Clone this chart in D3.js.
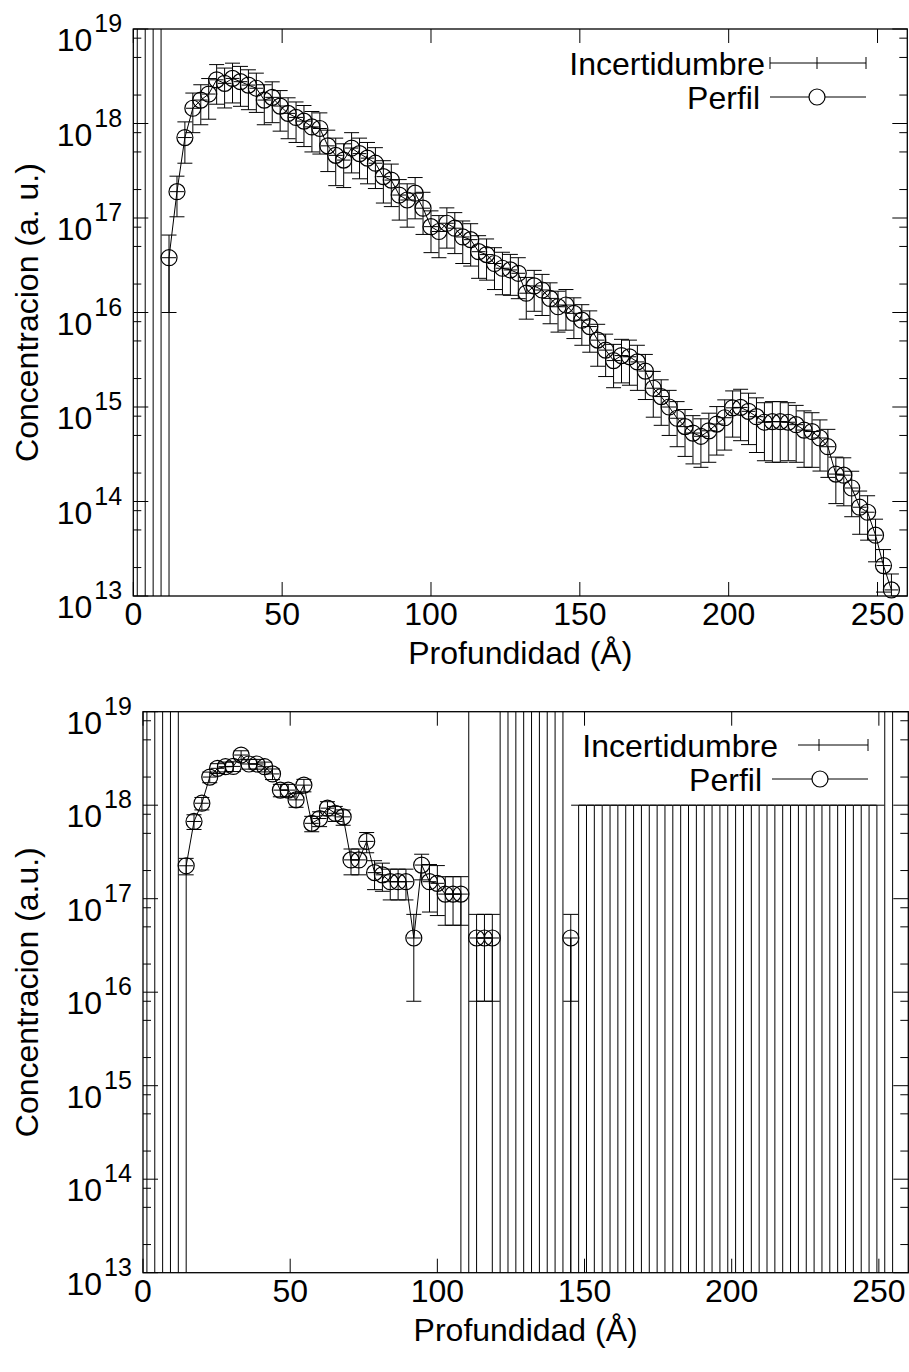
<!DOCTYPE html>
<html>
<head>
<meta charset="utf-8">
<script src="https://cdn.jsdelivr.net/npm/d3@7"></script>
<style>
  body { margin: 0; background: #fff; }
  svg { display: block; }
  text { font-family: "Liberation Sans", Arial, sans-serif; fill: #000; }
</style>
</head>
<body>
<svg id="chart" width="909" height="1372"></svg>
<script>
// profundidad (Å) de cada canal
const depth = [
    1.33, 4.00, 6.67, 9.33, 12.00, 14.67, 17.33, 20.00, 22.67, 25.33,
    28.00, 30.67, 33.33, 36.00, 38.67, 41.33, 44.00, 46.67, 49.33, 52.00,
    54.67, 57.33, 60.00, 62.67, 65.33, 68.00, 70.67, 73.33, 76.00, 78.67,
    81.33, 84.00, 86.67, 89.33, 92.00, 94.67, 97.33, 100.00, 102.67, 105.33,
    108.00, 110.67, 113.33, 116.00, 118.67, 121.33, 124.00, 126.67, 129.33, 132.00,
    134.67, 137.33, 140.00, 142.67, 145.33, 148.00, 150.67, 153.33, 156.00, 158.67,
    161.33, 164.00, 166.67, 169.33, 172.00, 174.67, 177.33, 180.00, 182.67, 185.33,
    188.00, 190.67, 193.33, 196.00, 198.67, 201.33, 204.00, 206.67, 209.33, 212.00,
    214.67, 217.33, 220.00, 222.67, 225.33, 228.00, 230.67, 233.33, 236.00, 238.67,
    241.33, 244.00, 246.67, 249.33, 252.00, 254.67
];

const xTicks = [0, 50, 100, 150, 200, 250];
const yTicks = [1e13, 1e14, 1e15, 1e16, 1e17, 1e18, 1e19];
const yMinorSteps = [2, 5, 8];

// panel superior
const topValue = [
    0, 0, 0, 0, 3.8e16, 1.9e17, 7.1e17, 1.45e18, 1.77e18, 2.05e18,
    2.9e18, 2.66e18, 3.0e18, 2.77e18, 2.55e18, 2.36e18, 1.77e18, 1.89e18, 1.53e18, 1.28e18,
    1.16e18, 1.06e18, 9.2e17, 8.85e17, 5.8e17, 4.6e17, 4.1e17, 5.5e17, 4.8e17, 4.3e17,
    3.8e17, 2.74e17, 2.52e17, 1.75e17, 1.55e17, 1.83e17, 1.27e17, 8.1e16, 7.2e16, 8.8e16,
    7.8e16, 6.3e16, 5.9e16, 4.4e16, 4.1e16, 3.3e16, 2.94e16, 2.82e16, 2.6e16, 1.6e16,
    1.91e16, 1.73e16, 1.41e16, 1.15e16, 1.2e16, 9.8e15, 8.3e15, 7.1e15, 5.1e15, 4.0e15,
    3.1e15, 3.5e15, 3.4e15, 3.0e15, 2.4e15, 1.58e15, 1.29e15, 1.0e15, 7.6e14, 6.2e14,
    5.3e14, 4.9e14, 5.6e14, 6.6e14, 7.7e14, 9.8e14, 9.9e14, 9.0e14, 7.9e14, 6.9e14,
    7.0e14, 7.0e14, 6.9e14, 6.5e14, 5.7e14, 5.5e14, 4.7e14, 3.8e14, 1.95e14, 1.9e14,
    1.39e14, 8.7e13, 7.7e13, 4.4e13, 2.1e13, 1.16e13
];
const topError = [
    1e20, 1e20, 1e20, 1e20, 2.8e16, 8.7e16, 3.3e17, 6.5e17, 8.0e17, 9.4e17,
    1.3e18, 1.2e18, 1.35e18, 1.25e18, 1.15e18, 1.05e18, 8.0e17, 8.7e17, 7.0e17, 5.9e17,
    5.3e17, 4.9e17, 4.2e17, 4.1e17, 2.7e17, 2.4e17, 2.0e17, 2.5e17, 2.2e17, 2.0e17,
    1.75e17, 1.3e17, 1.2e17, 8.0e16, 7.5e16, 8.5e16, 6.0e16, 3.8e16, 3.4e16, 4.0e16,
    3.6e16, 3.0e16, 2.8e16, 2.1e16, 1.9e16, 1.55e16, 1.4e16, 1.3e16, 1.2e16, 7.5e15,
    8.8e15, 8.0e15, 6.5e15, 5.3e15, 5.5e15, 4.5e15, 3.8e15, 3.3e15, 2.4e15, 1.9e15,
    1.5e15, 1.7e15, 1.7e15, 1.5e15, 1.2e15, 8.0e14, 6.5e14, 5.0e14, 3.8e14, 3.2e14,
    2.8e14, 2.6e14, 3.0e14, 3.5e14, 4.2e14, 5.0e14, 5.5e14, 5.0e14, 4.6e14, 4.2e14,
    4.4e14, 4.4e14, 4.2e14, 3.9e14, 3.4e14, 3.2e14, 2.6e14, 2.0e14, 1.0e14, 1.0e14,
    7.0e13, 4.2e13, 3.8e13, 2.1e13, 1.0e13, 5.5e12
];

// panel inferior
const bottomValue = [
    0, 0, 0, 0, 0, 2.25e17, 6.7e17, 1.05e18, 2.0e18, 2.48e18,
    2.58e18, 2.6e18, 3.44e18, 2.76e18, 2.76e18, 2.58e18, 2.16e18, 1.45e18, 1.45e18, 1.14e18,
    1.64e18, 6.4e17, 7.2e17, 9.3e17, 8.2e17, 7.5e17, 2.6e17, 2.6e17, 4.1e17, 1.9e17,
    1.8e17, 1.52e17, 1.52e17, 1.52e17, 3.8e16, 2.29e17, 1.52e17, 1.46e17, 1.12e17, 1.12e17,
    1.12e17, 0, 3.8e16, 3.8e16, 3.8e16, 0, 0, 0, 0, 0,
    0, 0, 0, 0, 3.8e16, 0, 0, 0, 0, 0,
    0, 0, 0, 0, 0, 0, 0, 0, 0, 0,
    0, 0, 0, 0, 0, 0, 0, 0, 0, 0,
    0, 0, 0, 0, 0, 0, 0, 0, 0, 0,
    0, 0, 0, 0, 0, 0
];
const bottomError = [
    1e20, 1e20, 1e20, 1e20, 1e20, 4.5e16, 1.2e17, 1.6e17, 2.6e17, 3.0e17,
    3.1e17, 3.1e17, 3.8e17, 3.3e17, 3.3e17, 3.1e17, 2.8e17, 2.2e17, 2.2e17, 1.9e17,
    2.5e17, 1.2e17, 1.3e17, 1.6e17, 1.5e17, 1.4e17, 8e16, 8e16, 1.0e17, 6.5e16,
    6e16, 5.5e16, 5.5e16, 5.5e16, 3e16, 7e16, 8e16, 8e16, 6e16, 6e16,
    6e16, 1e20, 3e16, 3e16, 3e16, 1e20, 1e20, 1e20, 1e20, 1e20,
    1e20, 1e20, 1e20, 1e20, 3e16, 1e18, 1e18, 1e18, 1e18, 1e18,
    1e18, 1e18, 1e18, 1e18, 1e18, 1e18, 1e18, 1e18, 1e18, 1e18,
    1e18, 1e18, 1e18, 1e18, 1e18, 1e18, 1e18, 1e18, 1e18, 1e18,
    1e18, 1e18, 1e18, 1e18, 1e18, 1e18, 1e18, 1e18, 1e18, 1e18,
    1e18, 1e18, 1e18, 1e18, 1e20, 1e20
];

const panels = [
    {
        id: 'top', value: topValue, error: topError,
        left: 133.3, right: 907.3, top: 29, bottom: 596,
        ylabel: 'Concentracion (a. u.)',
        legend: [
            { label: 'Incertidumbre', textRight: 765, y: 63, x1: 770, x2: 866, mx: 817, caps: [770, 866], kind: 'err' },
            { label: 'Perfil', textRight: 760, y: 97, x1: 770, x2: 866, mx: 817, kind: 'circle' }
        ]
    },
    {
        id: 'bottom', value: bottomValue, error: bottomError,
        left: 143, right: 908.3, top: 711.7, bottom: 1272.7,
        ylabel: 'Concentracion (a.u.)',
        legend: [
            { label: 'Incertidumbre', textRight: 778, y: 745, x1: 798, x2: 868, mx: 819, caps: [868], kind: 'err' },
            { label: 'Perfil', textRight: 762, y: 779, x1: 772, x2: 868, mx: 820, kind: 'circle' }
        ]
    }
];

const svg = d3.select('#chart');
const yMin = 1e13, yMax = 1e19;
const capHalf = 7.5;
const radius = 8;

function drawPanel(p) {
    const x = d3.scaleLinear().domain([0, 260]).range([p.left, p.right]);
    const y = d3.scaleLog().domain([yMin, yMax]).range([p.bottom, p.top]);

    svg.append('clipPath').attr('id', 'clip-' + p.id)
        .append('rect')
        .attr('x', p.left).attr('y', p.top)
        .attr('width', p.right - p.left).attr('height', p.bottom - p.top);

    const g = svg.append('g').attr('clip-path', `url(#clip-${p.id})`);
    const line = (x1, y1, x2, y2, w) => g.append('line')
        .attr('x1', x1).attr('y1', y1).attr('x2', x2).attr('y2', y2)
        .attr('stroke', '#000').attr('stroke-width', w || 1);

    // barras de error
    depth.forEach((d, i) => {
        const v = p.value[i], e = p.error[i];
        const hi = v + e, lo = v - e;
        if (hi <= yMin) return;
        const xp = x(d);
        const yHi = hi >= yMax ? p.top : y(hi);
        const yLo = lo <= yMin ? p.bottom : y(lo);
        line(xp, yHi, xp, yLo);
        if (hi < yMax) line(xp - capHalf, yHi, xp + capHalf, yHi);
        if (lo > yMin && lo < yMax) line(xp - capHalf, yLo, xp + capHalf, yLo);
        if (v > yMin && v < yMax) line(xp - 7, y(v), xp + 7, y(v));
    });

    // perfil
    for (let i = 0; i < depth.length - 1; i++) {
        const a = p.value[i], b = p.value[i + 1];
        if (a > 0 && b > 0) {
            line(x(depth[i]), y(a), x(depth[i + 1]), y(b));
        } else if (a > 0) {
            line(x(depth[i]), y(a), x(depth[i]), p.bottom);
        } else if (b > 0) {
            line(x(depth[i + 1]), p.bottom, x(depth[i + 1]), y(b));
        }
    }

    svg.append('g').selectAll('circle')
        .data(depth.map((d, i) => [d, p.value[i]]).filter(d => d[1] >= yMin && d[1] <= yMax))
        .enter()
        .append('circle')
        .attr('cx', d => x(d[0]))
        .attr('cy', d => y(d[1]))
        .attr('r', radius)
        .attr('fill', 'none')
        .attr('stroke', '#000')
        .attr('stroke-width', 1.2);

    // marco y marcas
    const axes = svg.append('g');
    const tick = (x1, y1, x2, y2) => axes.append('line')
        .attr('x1', x1).attr('y1', y1).attr('x2', x2).attr('y2', y2)
        .attr('stroke', '#000').attr('stroke-width', 1);

    yTicks.forEach(t => {
        const yp = y(t);
        tick(p.left, yp, p.left + 15, yp);
        tick(p.right, yp, p.right - 15, yp);
        const lab = axes.append('g');
        lab.append('text')
            .attr('x', p.left - 41).attr('y', yp + 22)
            .attr('text-anchor', 'end').attr('font-size', 32)
            .text('10');
        lab.append('text')
            .attr('x', p.left - 39).attr('y', yp + 3)
            .attr('font-size', 25)
            .text(Math.round(Math.log10(t)));
        if (t < yMax) {
            yMinorSteps.forEach(m => {
                const ym = y(t * m);
                tick(p.left, ym, p.left + 8, ym);
                tick(p.right, ym, p.right - 8, ym);
            });
        }
    });

    xTicks.forEach(t => {
        const xp = x(t);
        tick(xp, p.bottom, xp, p.bottom - 14);
        tick(xp, p.top, xp, p.top + 14);
        axes.append('text')
            .attr('x', xp).attr('y', p.bottom + 29)
            .attr('text-anchor', 'middle').attr('font-size', 32)
            .text(t);
    });

    axes.append('rect')
        .attr('x', p.left).attr('y', p.top)
        .attr('width', p.right - p.left).attr('height', p.bottom - p.top)
        .attr('fill', 'none').attr('stroke', '#000').attr('stroke-width', 1.3);

    axes.append('text')
        .attr('x', (p.left + p.right) / 2).attr('y', p.bottom + 68)
        .attr('text-anchor', 'middle').attr('font-size', 32)
        .text('Profundidad (Å)');

    const cy = (p.top + p.bottom) / 2;
    axes.append('text')
        .attr('transform', `translate(38, ${cy}) rotate(-90)`)
        .attr('text-anchor', 'middle').attr('font-size', 32)
        .text(p.ylabel);

    // leyenda
    p.legend.forEach(k => {
        axes.append('text')
            .attr('x', k.textRight).attr('y', k.y + 11.5)
            .attr('text-anchor', 'end').attr('font-size', 32)
            .text(k.label);
        tick(k.x1, k.y, k.x2, k.y);
        if (k.kind === 'err') {
            k.caps.forEach(c => tick(c, k.y - 6, c, k.y + 6));
            tick(k.mx, k.y - 6, k.mx, k.y + 6);
        } else {
            axes.append('circle')
                .attr('cx', k.mx).attr('cy', k.y).attr('r', radius)
                .attr('fill', '#fff').attr('stroke', '#000').attr('stroke-width', 1.2);
        }
    });
}

panels.forEach(drawPanel);
</script>
</body>
</html>
